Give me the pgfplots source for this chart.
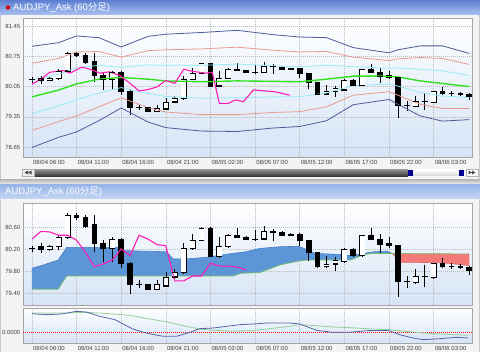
\documentclass[border=0pt]{standalone}
\usepackage{fontspec}
\setmainfont{Liberation Sans}
\newfontfamily\cjk{Noto Sans CJK JP}
\usepackage{pgfplots}
\pgfplotsset{compat=1.18}
\usepackage{pgfplotstable}

\definecolor{bthree}{RGB}{77,91,153}
\definecolor{btwo}{RGB}{232,154,138}
\definecolor{bone}{RGB}{150,236,246}
\definecolor{bmid}{RGB}{50,225,30}
\definecolor{mag}{RGB}{255,30,180}
\definecolor{cloudb}{RGB}{92,150,214}
\definecolor{cloudbe}{RGB}{70,125,200}
\definecolor{cloudr}{RGB}{244,122,122}
\definecolor{cloudre}{RGB}{225,100,100}
\definecolor{spanb}{RGB}{120,190,100}
\definecolor{oscb}{RGB}{88,100,168}
\definecolor{oscg}{RGB}{150,208,150}
\definecolor{bgtop}{RGB}{255,255,255}
\definecolor{bgbot}{RGB}{214,228,246}
\definecolor{tbtop}{RGB}{92,126,210}
\definecolor{tbbot}{RGB}{170,194,240}
\definecolor{tbtwotop}{RGB}{150,180,232}
\definecolor{tbtwobot}{RGB}{196,214,244}
\definecolor{winbg}{RGB}{200,200,200}
\definecolor{panelbg}{RGB}{244,244,244}
\definecolor{gridc}{RGB}{185,185,185}
\definecolor{framec}{RGB}{165,165,165}

\pgfplotstableread{
i O H L C
0 80.22 80.26 80.14 80.22
1 80.24 80.30 80.12 80.20
2 80.19 80.27 80.17 80.25
3 80.24 80.45 80.19 80.41
4 80.41 80.86 80.38 80.82
5 80.82 80.85 80.73 80.78
6 80.78 80.82 80.58 80.62
7 80.64 80.82 80.15 80.31
8 80.31 80.36 79.97 80.21
9 80.21 80.42 79.97 80.38
10 80.38 80.40 79.85 79.94
11 79.94 79.96 79.39 79.56
12 79.56 79.63 79.50 79.56
13 79.56 79.57 79.46 79.47
14 79.47 79.63 79.45 79.55
15 79.53 79.79 79.51 79.68
16 79.69 79.84 79.66 79.77
17 79.77 80.30 79.75 80.21
18 80.21 80.48 80.19 80.36
19 80.36 80.60 80.34 80.58
20 80.58 80.60 80.05 80.06
21 80.06 80.41 80.03 80.24
22 80.24 80.47 80.22 80.45
23 80.45 80.59 80.40 80.42
24 80.42 80.44 80.36 80.38
25 80.38 80.54 80.35 80.38
26 80.38 80.62 80.37 80.52
27 80.52 80.56 80.35 80.51
28 80.50 80.52 80.44 80.45
29 80.47 80.49 80.43 80.45
30 80.47 80.49 80.25 80.36
31 80.36 80.37 79.99 80.14
32 80.14 80.15 79.85 79.88
33 79.88 80.08 79.86 79.93
34 79.93 80.06 79.80 80.00
35 79.97 80.22 79.95 80.20
36 80.20 80.22 80.06 80.08
37 80.08 80.46 80.06 80.45
38 80.45 80.58 80.36 80.38
39 80.38 80.48 80.13 80.28
40 80.30 80.41 80.22 80.26
41 80.26 80.28 79.33 79.62
42 79.62 79.71 79.49 79.62
43 79.59 79.83 79.57 79.71
44 79.71 79.91 79.51 79.71
45 79.68 79.95 79.66 79.94
46 79.94 80.03 79.86 79.89
47 79.89 79.95 79.84 79.89
48 79.89 79.92 79.84 79.87
49 79.87 79.89 79.73 79.82
}\candles

\pgfplotstableread{
i u3 u2 u1 m l1 l2 l3
0 80.98 80.59 80.20 79.81 79.42 79.03 78.64
3 81.065 80.70 80.335 79.97 79.605 79.24 78.875
5 81.22 80.85 80.48 80.11 79.74 79.37 79.00
7.5 81.18 80.86 80.54 80.22 79.90 79.58 79.26
10 80.965 80.73 80.495 80.26 80.025 79.79 79.555
13 81.21 80.88 80.55 80.22 79.89 79.56 79.23
15 81.26 80.90 80.54 80.18 79.82 79.46 79.10
19 81.30 80.92 80.54 80.16 79.78 79.40 79.02
23 81.35 80.96 80.57 80.18 79.79 79.40 79.01
27 81.25 80.89 80.53 80.17 79.81 79.45 79.09
30 81.195 80.85 80.505 80.16 79.815 79.47 79.125
33 81.18 80.86 80.54 80.22 79.90 79.58 79.26
36 80.95 80.73 80.51 80.29 80.07 79.85 79.63
40 80.83 80.65 80.47 80.29 80.11 79.93 79.75
41 80.90 80.69 80.48 80.27 80.06 79.85 79.64
43.5 80.99 80.72 80.45 80.18 79.91 79.64 79.37
46 80.99 80.70 80.41 80.12 79.83 79.54 79.25
49 80.815 80.56 80.305 80.05 79.795 79.54 79.285
}\bands

% #1 = inset of the white body, in data units
\newcommand\drawcandles[1]{%
  \addplot[draw=none, mark=none, forget plot,
    error bars/.cd, y dir=plus, y explicit, error mark=none,
    error bar style={draw=black, line width=0.6bp}]
    table[x=i, y=L, y error expr={\thisrow{H}-\thisrow{L}}]{\candles};
  \addplot[draw=none, mark=none, forget plot,
    error bars/.cd, y dir=plus, y explicit, error mark=none,
    error bar style={draw=black, line width=5.8bp}]
    table[x=i, y expr={min(\thisrow{O},\thisrow{C})}, y error expr={abs(\thisrow{C}-\thisrow{O})}]{\candles};
  \addplot[only marks, mark=-, mark size=2.9bp, mark options={draw=black, line width=0.6bp}, forget plot]
    table[x=i, y=O]{\candles};
  \addplot[only marks, mark=-, mark size=2.9bp, mark options={draw=black, line width=0.6bp}, forget plot]
    table[x=i, y=C]{\candles};
  \addplot[draw=none, mark=none, forget plot,
    error bars/.cd, y dir=plus, y explicit, error mark=none,
    error bar style={draw=white, line width=4.6bp}]
    table[x=i, y expr={\thisrow{C}>\thisrow{O} ? \thisrow{O}+#1 : nan},
      y error expr={\thisrow{C}-\thisrow{O}-2*#1}]{\candles};
}

\pgfplotsset{
  panel/.style={
    scale only axis, width=449bp, xmin=-1, xmax=49.3,
    axis line style={draw=framec},
    major tick length=0pt, tick style={draw=none},
    grid=major, major grid style={draw=gridc, dash pattern=on 1bp off 1bp, line width=0.5bp},
    axis background/.style={shade, top color=bgtop, bottom color=bgbot},
    xtick={0,5,...,45},
    scaled y ticks=false,
    tick label style={font=\fontsize{6}{7}\selectfont, text=black!75},
    yticklabel style={inner sep=2.5bp},
    anchor=north west,
  },
  xlabs/.style={
    xticklabels={08/04 06:00,08/04 11:00,08/04 16:00,08/04 21:00,08/05 02:00,08/05 07:00,08/05 12:00,08/05 17:00,08/05 22:00,08/06 03:00},
    xticklabel style={anchor=north west, inner sep=0pt, yshift=-2.5bp, xshift=1bp},
  },
}

\begin{document}
\begin{tikzpicture}
\useasboundingbox (0,0) rectangle (480bp,-352bp);
\fill[winbg] (0,0) rectangle (480bp,-352bp);
% window 1
\shade[top color=tbtop, bottom color=tbbot] (0,0) rectangle (480bp,-15bp);
\fill[red!85!black] (8bp,-7.5bp) circle (2.2bp);
\node[anchor=west, inner sep=0pt, text=white, font=\fontsize{9.5}{10}\selectfont] at (13bp,-7.3bp) {AUDJPY\_Ask (60{\cjk 分足})};
\fill[panelbg] (1bp,-15bp) rectangle (479bp,-179bp);
% scrollbar
\fill[gray!12] (22bp,-169bp) rectangle (34bp,-176bp);
\draw[gray!60, line width=0.4bp] (22bp,-169bp) rectangle (34bp,-176bp);
\fill[black!70] (24.5bp,-172.5bp) -- (28bp,-170.5bp) -- (28bp,-174.5bp) -- cycle;
\fill[black!70] (28bp,-172.5bp) -- (31.5bp,-170.5bp) -- (31.5bp,-174.5bp) -- cycle;
\shade[top color=black!40, bottom color=black!78] (35bp,-169bp) rectangle (408bp,-176bp);
\fill[blue!55!black] (408bp,-169.5bp) rectangle (413bp,-175.5bp);
\shade[top color=white, bottom color=gray!30] (413bp,-169.5bp) rectangle (459bp,-175.5bp);
\fill[blue!55!black] (459bp,-169.5bp) rectangle (464bp,-175.5bp);
\fill[white] (466bp,-169bp) rectangle (478bp,-176bp);
\draw[gray!60, line width=0.4bp] (466bp,-169bp) rectangle (478bp,-176bp);
\fill[black!70] (475.5bp,-172.5bp) -- (472bp,-170.5bp) -- (472bp,-174.5bp) -- cycle;
\fill[black!70] (472bp,-172.5bp) -- (468.5bp,-170.5bp) -- (468.5bp,-174.5bp) -- cycle;
% window 2
\shade[top color=gray!60, bottom color=gray!15] (0,-179bp) rectangle (480bp,-184bp);
\shade[top color=tbtwotop, bottom color=tbtwobot] (0,-184bp) rectangle (480bp,-199bp);
\node[anchor=west, inner sep=0pt, text=white, font=\fontsize{9.5}{10}\selectfont] at (5bp,-191.5bp) {AUDJPY\_Ask (60{\cjk 分足})};
\fill[panelbg] (1bp,-199bp) rectangle (479bp,-352bp);

% ---------- top panel: Bollinger bands ----------
\begin{axis}[panel, xlabs, at={(23bp,-18bp)}, height=139bp, ymin=78.42, ymax=81.635,
  ytick={78.65,79.35,80.05,80.75,81.45}, yticklabels={78.65,79.35,80.05,80.75,81.45}]
\drawcandles{0.014}
\addplot[bthree, line width=0.8bp] table[x=i,y=u3]{\bands};
\addplot[bthree, line width=0.8bp] table[x=i,y=l3]{\bands};
\addplot[btwo, line width=0.8bp] table[x=i,y=u2]{\bands};
\addplot[btwo, line width=0.8bp] table[x=i,y=l2]{\bands};
\addplot[bone, line width=0.8bp] table[x=i,y=u1]{\bands};
\addplot[bone, line width=0.8bp] table[x=i,y=l1]{\bands};
\addplot[bmid, line width=1.4bp] table[x=i,y=m]{\bands};
\addplot[mag, line width=1.1bp] coordinates {(0,80.10)(1,80.22)(2,80.38)(3.5,80.42)(4.3,80.36)(5.6,80.50)(6.5,80.45)(7.6,80.36)(8.7,80.39)(9.9,80.30)(11,80.12)(12,79.95)(13,79.98)(14,80.04)(15,80.19)(16,80.12)(17,80.45)(18,80.40)(19.5,80.36)(20.2,80.38)(21,79.66)(22,79.66)(22.8,79.74)(23.7,79.70)(24.8,79.97)(27.2,79.93)(28.9,79.85)};
\end{axis}

% ---------- middle panel: Ichimoku cloud ----------
\begin{axis}[panel, at={(23bp,-203bp)}, height=102bp, ymin=79.182, ymax=81.036,
  ytick={79.40,79.80,80.20,80.60}, yticklabels={79.40,79.80,80.20,80.60}, xticklabels={}]
% cloud where span A is above span B (blue)
\addplot[fill=cloudb, draw=none] coordinates {(0,79.85)(1.3,79.91)(2.95,80.00)(3.9,80.23)(9.85,80.23)(10.4,80.17)(15.1,80.15)(15.8,80.02)(17.3,80.02)(19.6,80.05)(22.5,80.12)(24,80.15)(25.5,80.21)(27.7,80.24)(29.8,80.25)(30.8,80.19)(31.7,80.12)(34.5,80.10)(35.7,80.08)(37.2,80.12)(38.3,80.15)(39.8,80.16)(40.35,80.12)(38.3,80.12)(37.2,80.10)(35.7,80.00)(30.9,80.00)(29.8,79.98)(27.8,79.91)(25.5,79.77)(23.5,79.76)(22.5,79.71)(3.9,79.71)(2.95,79.47)(0,79.47)} -- cycle;
% cloud where span A is below span B (red)
\addplot[fill=cloudr, draw=none] coordinates {(40.35,80.12)(41.3,79.96)(46,79.95)(49,79.90)(49,80.11)} -- cycle;
% span A
\addplot[cloudbe, line width=0.6bp] coordinates {(0,79.85)(1.3,79.91)(2.95,80.00)(3.9,80.23)(9.85,80.23)(10.4,80.17)(15.1,80.15)(15.8,80.02)(17.3,80.02)(19.6,80.05)(22.5,80.12)(24,80.15)(25.5,80.21)(27.7,80.24)(29.8,80.25)(30.8,80.19)(31.7,80.12)(34.5,80.10)(35.7,80.08)(37.2,80.12)(38.3,80.15)(39.8,80.16)(40.35,80.12)};
\addplot[cloudre, line width=0.6bp] coordinates {(40.35,80.12)(41.3,79.96)(46,79.95)(49,79.90)};
% span B
\addplot[spanb, line width=0.7bp] coordinates {(0,79.47)(2.95,79.47)(3.9,79.71)(22.5,79.71)(23.5,79.76)(25.5,79.77)(27.8,79.91)(29.8,79.98)(30.9,80.00)(35.7,80.00)(37.2,80.10)(38.3,80.12)(49,80.11)};
\drawcandles{0.011}
\addplot[mag, line width=1.1bp] coordinates {(0,80.38)(1,80.52)(2,80.51)(3,80.45)(4,80.45)(5,80.36)(6,80.14)(7,79.88)(8,79.93)(9,80.00)(10,80.20)(11,80.08)(12,80.45)(13,80.38)(14,80.28)(15,80.26)(16,79.62)(17,79.62)(18,79.71)(19,79.71)(20,79.94)(21,79.89)(22,79.89)(23,79.87)(24,79.82)};
\end{axis}

% ---------- bottom panel: oscillator ----------
\begin{axis}[panel, xlabs, at={(23bp,-308bp)}, height=35bp, ymin=-0.033, ymax=0.072,
  ytick={0}, yticklabels={0.0000}]
\addplot[red, line width=0.6bp, dash pattern=on 1bp off 1bp] coordinates {(-1,0) (49.3,0)};
\addplot[oscg, line width=0.8bp] coordinates {(0,0.057)(3.9,0.057)(5.7,0.059)(7.6,0.057)(11,0.050)(13.2,0.039)(15.1,0.030)(17.3,0.017)(18.8,0.009)(20.3,0.005)(22.5,0.003)(24.8,0.004)(26.3,0.009)(28.9,0.017)(30,0.022)(31.9,0.019)(33.7,0.015)(35.6,0.013)(37.5,0.010)(39.9,0.007)(43.1,-0.001)(44.9,-0.005)(48.9,-0.010)};
\addplot[oscb, line width=0.8bp] coordinates {(0,0.055)(1.6,0.052)(3.3,0.054)(5.0,0.062)(6.1,0.060)(7.6,0.047)(9.3,0.037)(11.3,0.009)(12.8,-0.003)(14.7,-0.013)(16.2,-0.013)(17.7,-0.001)(18.8,0.010)(20.3,0.012)(23.3,0.022)(24.8,0.024)(26.3,0.027)(28.9,0.027)(30.0,0.024)(31.9,0.005)(33.7,-0.001)(35.6,-0.001)(37.5,0.004)(39.9,0.005)(41.2,-0.008)(42.7,-0.018)(43.8,-0.023)(45.7,-0.020)(47.6,-0.016)(48.9,-0.018)};
\end{axis}
\end{tikzpicture}
\end{document}
